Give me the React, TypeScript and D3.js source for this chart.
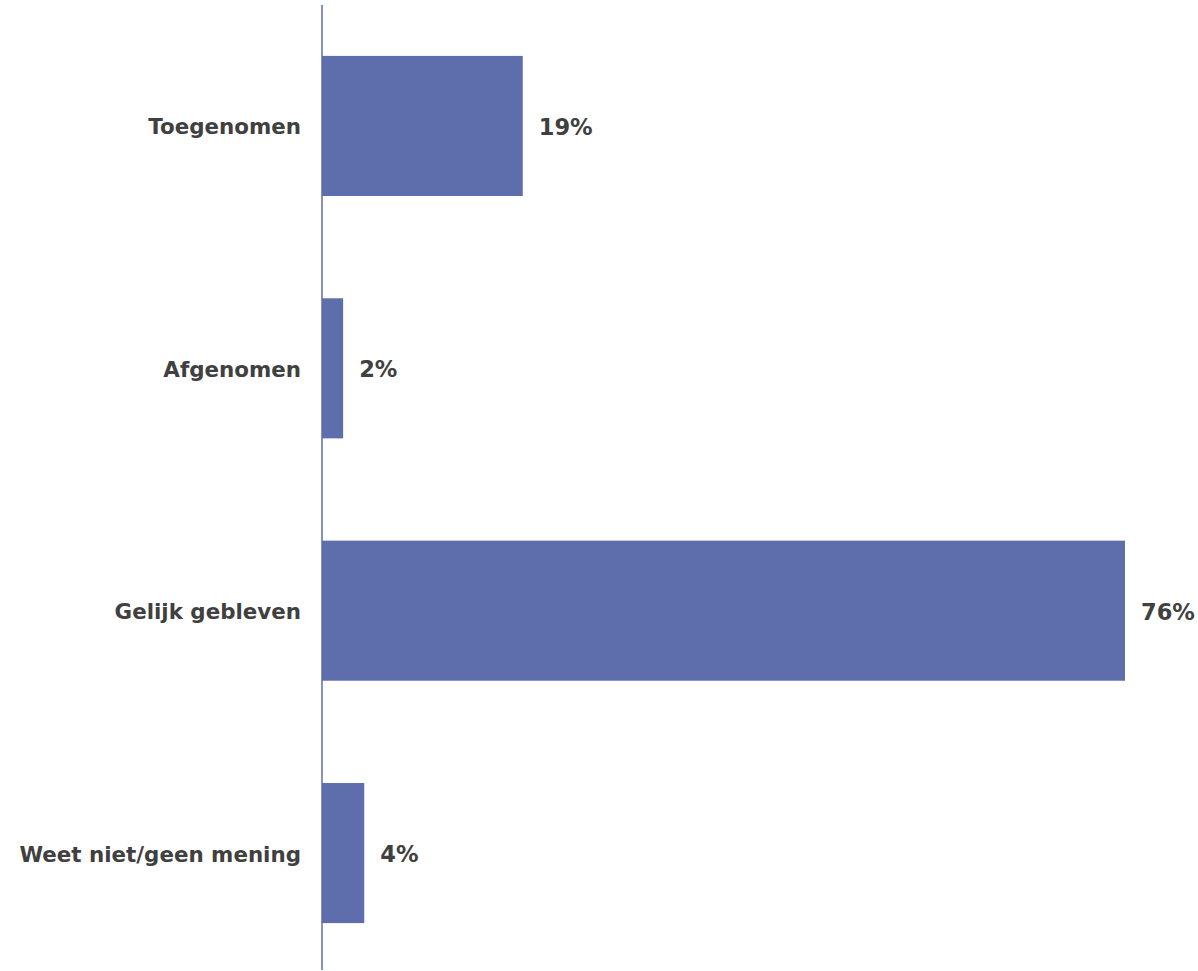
import React from "react";
import * as d3 from "d3";

const categories = ["Toegenomen", "Afgenomen", "Gelijk gebleven", "Weet niet/geen mening"];
const values = [19, 2, 76, 4];
const valueLabels = ["19%", "2%", "76%", "4%"];

const W = 1198;
const H = 971;
const AXIS_X = 322;
const X_MAX_PX = 1125;

export default function App() {
  const x = d3.scaleLinear().domain([0, 76]).range([AXIS_X, X_MAX_PX]);
  const y = d3
    .scaleBand<string>()
    .domain(categories)
    .range([5, 974])
    .paddingInner(0.422)
    .paddingOuter(0.21);
  const font = "'DejaVu Sans', Verdana, sans-serif";
  return (
    <svg width={W} height={H} style={{ position: "absolute", left: 0, top: 0 }}>
      <rect width={W} height={H} fill="#ffffff" />
      {categories.map((c, i) => (
        <g key={c}>
          <rect
            x={x(0)}
            y={y(c)!}
            width={x(values[i]) - x(0)}
            height={y.bandwidth()}
            fill="#5E6EAD"
          />
          <text
            x={AXIS_X - 21}
            y={y(c)! + y.bandwidth() / 2 + 1}
            textAnchor="end"
            dominantBaseline="central"
            fontFamily={font}
            fontWeight="bold"
            fontSize={21.4}
            fill="#404040"
          >
            {c}
          </text>
          <text
            x={x(values[i]) + 16}
            y={y(c)! + y.bandwidth() / 2 + 1}
            textAnchor="start"
            dominantBaseline="central"
            fontFamily={font}
            fontWeight="bold"
            fontSize={22.5}
            fill="#404040"
          >
            {valueLabels[i]}
          </text>
        </g>
      ))}
      <line x1={AXIS_X} x2={AXIS_X} y1={5} y2={970} stroke="#5E6EAD" strokeWidth={1.5} />
    </svg>
  );
}
